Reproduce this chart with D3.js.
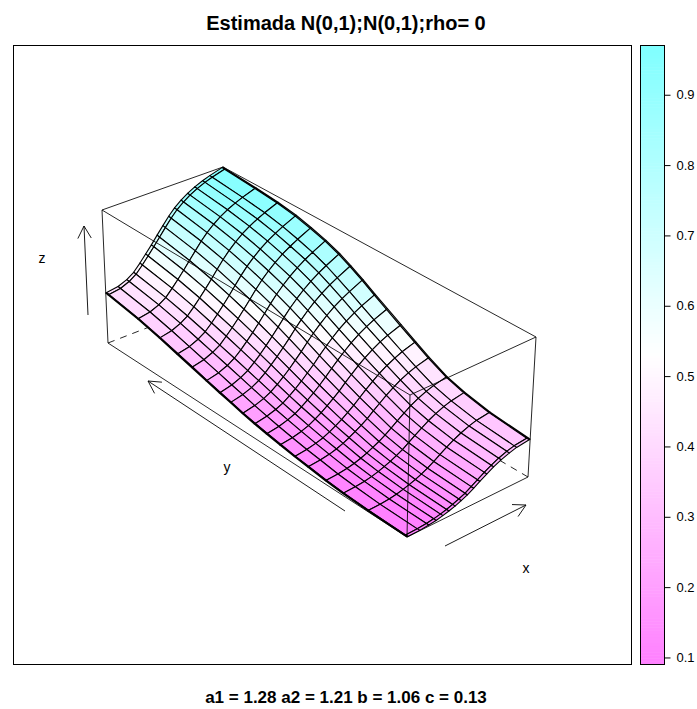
<!DOCTYPE html><html><head><meta charset="utf-8"><script src="https://cdn.jsdelivr.net/npm/d3@7"></script>
<style>body{margin:0;background:#fff}text{font-family:"Liberation Sans",Arial,sans-serif;fill:#000}</style></head><body><div id="c"></div><script>
const titleText='Estimada N(0,1);N(0,1);rho= 0';
const subText='a1 = 1.28 a2 = 1.21 b = 1.06 c = 0.13';
const colorTicks=[.1,.2,.3,.4,.5,.6,.7,.8,.9];
const xGrid=[0,.008,.105,.18,.24,.295,.345,.395,.445,.495,.545,.595,.65,.705,.765,.83,.89,.992,1];
const yGrid=[0,.008,.105,.176,.234,.282,.33,.374,.41,.45,.49,.53,.575,.623,.668,.727,.785,.868,.992,1];
const zRows=[
[.421,.417,.381,.345,.312,.285,.259,.235,.218,.197,.180,.165,.150,.136,.125,.111,.101,.094,.090,.090],
[.422,.418,.382,.346,.313,.287,.260,.236,.219,.198,.181,.166,.151,.136,.126,.111,.102,.094,.090,.090],
[.433,.430,.396,.361,.329,.303,.277,.253,.235,.214,.195,.178,.161,.145,.133,.116,.106,.096,.092,.092],
[.457,.454,.420,.386,.354,.328,.301,.276,.256,.234,.213,.195,.176,.158,.143,.125,.113,.102,.097,.097],
[.488,.485,.450,.416,.384,.356,.329,.302,.281,.257,.234,.214,.193,.172,.156,.135,.122,.110,.104,.103],
[.533,.530,.494,.459,.424,.396,.366,.338,.314,.287,.262,.239,.216,.192,.173,.149,.134,.121,.113,.113],
[.579,.575,.538,.502,.466,.436,.405,.374,.349,.319,.291,.266,.239,.213,.191,.164,.147,.132,.123,.123],
[.625,.622,.584,.547,.511,.479,.446,.414,.386,.354,.323,.295,.266,.236,.212,.182,.163,.146,.136,.135],
[.675,.671,.633,.595,.558,.525,.491,.457,.427,.393,.359,.328,.295,.263,.235,.202,.181,.162,.151,.150],
[.724,.720,.682,.645,.607,.573,.538,.502,.470,.433,.396,.363,.327,.292,.261,.225,.201,.181,.168,.167],
[.772,.768,.731,.694,.657,.623,.587,.549,.516,.477,.438,.402,.364,.325,.292,.252,.227,.205,.191,.190],
[.813,.810,.773,.738,.702,.668,.632,.594,.559,.519,.477,.439,.399,.358,.322,.280,.254,.230,.215,.214],
[.849,.846,.812,.779,.744,.711,.675,.637,.602,.560,.517,.478,.436,.392,.355,.310,.282,.257,.241,.240],
[.879,.876,.845,.814,.781,.749,.714,.676,.640,.598,.554,.513,.469,.424,.384,.338,.309,.282,.265,.264],
[.905,.902,.874,.846,.816,.785,.751,.713,.676,.634,.588,.546,.500,.453,.412,.363,.333,.305,.287,.286],
[.927,.925,.899,.875,.847,.817,.785,.747,.710,.667,.620,.576,.529,.480,.436,.385,.354,.325,.306,.304],
[.944,.942,.919,.898,.873,.844,.813,.775,.737,.693,.645,.600,.551,.500,.454,.401,.369,.339,.318,.317],
[.968,.966,.948,.932,.911,.884,.854,.817,.778,.732,.681,.633,.580,.525,.475,.419,.384,.351,.328,.327],
[.970,.968,.951,.935,.914,.887,.857,.820,.781,.735,.684,.636,.583,.527,.477,.420,.385,.352,.329,.328]];
const W=697,H=709;
const svg=d3.select('#c').append('svg').attr('width',W).attr('height',H);
const zDomain=[.09,.97];
const xS=d3.scaleLinear().domain([0,1]).range([0,1]);
const yS=d3.scaleLinear().domain([0,1]).range([0,1]);
const wS=d3.scaleLinear().domain(zDomain).range([0,1]);
const col=d3.scaleLinear().domain([zDomain[0],d3.mean(zDomain),zDomain[1]]).range(['#FF80FF','#FFFFFF','#80FFFF']);
// projected corners of the 3-D bounding box
const c={E:[108,343],F:[407,537],G:[528,477],H:[224,298],A:[102,210],D:[410,395],C:[536,337],B:[223,167]};
const lerp=(a,b,t)=>[a[0]+(b[0]-a[0])*t,a[1]+(b[1]-a[1])*t];
function P(u,v,w){
 const bot=lerp(lerp(c.E,c.H,u),lerp(c.F,c.G,u),v);
 const top=lerp(lerp(c.A,c.B,u),lerp(c.D,c.C,u),v);
 return lerp(bot,top,w);
}
svg.append('rect').attr('x',13.5).attr('y',45.5).attr('width',618).attr('height',619).attr('fill','none').attr('stroke','#000');
const line=(a,b,d)=>svg.append('line').attr('x1',a[0]).attr('y1',a[1]).attr('x2',b[0]).attr('y2',b[1]).attr('stroke','#000').attr('stroke-width',.85).attr('stroke-dasharray',d||null);
line(c.E,c.H,'7 6');line(c.G,c.H,'7 6');line(c.H,c.B,'7 6');line(c.A,c.B);line(c.B,c.C);
const cells=[];
for(let i=xGrid.length-2;i>=0;i--)for(let j=0;j<yGrid.length-1;j++)cells.push([[i,j],[i+1,j],[i+1,j+1],[i,j+1]]);
svg.append('g').selectAll('path').data(cells).join('path')
 .attr('d',q=>'M'+q.map(([a,b])=>P(xS(xGrid[a]),yS(yGrid[b]),wS(zRows[a][b]))).join('L')+'Z')
 .attr('fill',q=>col(d3.mean(q,([a,b])=>zRows[a][b])))
 .attr('stroke','#000').attr('stroke-width',1.1).attr('stroke-linejoin','round');
line(c.A,c.D);line(c.D,c.C);line(c.A,c.E);line(c.D,c.F);line(c.C,c.G);line(c.E,c.F);line(c.F,c.G);
const y=d3.scaleLinear().domain(zDomain).range([664.5,45.5]);
const steps=d3.range(200).map(k=>[zDomain[0]+(zDomain[1]-zDomain[0])*k/200,zDomain[0]+(zDomain[1]-zDomain[0])*(k+1)/200]);
svg.append('g').selectAll('rect').data(steps).join('rect').attr('x',640).attr('width',24).attr('y',d=>y(d[1])).attr('height',d=>y(d[0])-y(d[1])+.5).attr('fill',d=>col((d[0]+d[1])/2));
svg.append('rect').attr('x',640.5).attr('y',45.5).attr('width',24).attr('height',619).attr('fill','none').attr('stroke','#000');
const ax=svg.append('g').attr('transform','translate(664.5,0)').call(d3.axisRight(y).tickValues(colorTicks).tickSize(6).tickFormat(d3.format('.1f')));
ax.select('.domain').remove();ax.selectAll('text').attr('font-size',13).attr('x',12).style('font-family','"Liberation Sans"');
const T=(t,x,yy,s,b)=>svg.append('text').attr('x',x).attr('y',yy).attr('text-anchor','middle').attr('font-size',s).attr('font-weight',b?'bold':null).text(t);
T(titleText,346,30,20,1);
T(subText,346,703,17,1);
T('x',526,573,14);T('y',227,472,14);T('z',42,263,14);
const arrow=(a,b)=>{const an=Math.atan2(b[1]-a[1],b[0]-a[0]);const L=14,s=.5;
 svg.append('path').attr('d',`M${a}L${b}M${[b[0]-L*Math.cos(an-s),b[1]-L*Math.sin(an-s)]}L${b}L${[b[0]-L*Math.cos(an+s),b[1]-L*Math.sin(an+s)]}`).attr('fill','none').attr('stroke','#000').attr('stroke-width',.9);};
arrow([88,315],[84,226]);arrow([345,511],[148,381]);arrow([445,546],[526,505]);
</script></body></html>
